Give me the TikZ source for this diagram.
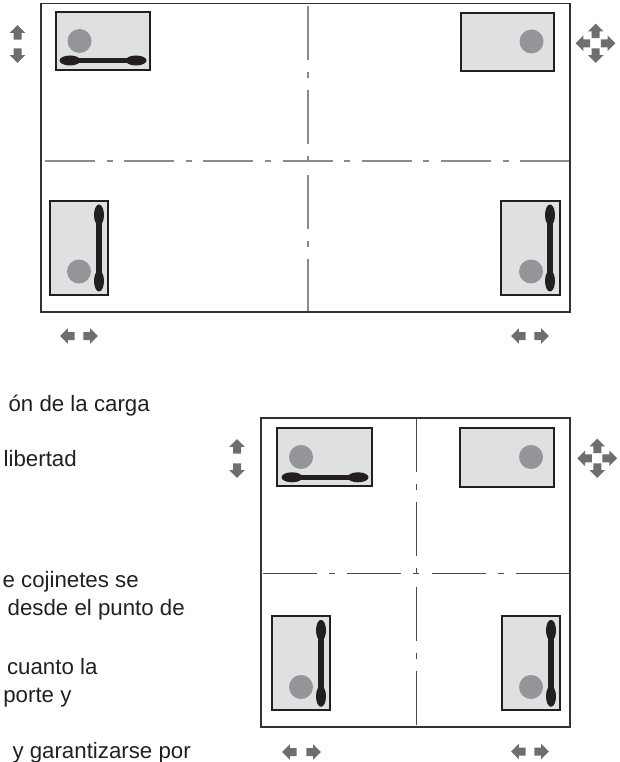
\documentclass[tikz,border=0pt]{standalone}
\usepackage{fontspec}
\setmainfont{Liberation Sans}
\usepackage{xcolor}
\usetikzlibrary{shapes.arrows}

\definecolor{framedark}{HTML}{333132}
\definecolor{axislight}{HTML}{8A8B8D}
\definecolor{axisdark}{HTML}{4A4A4B}
\definecolor{boxfill}{HTML}{DFE0E2}
\definecolor{ballgray}{HTML}{949598}
\definecolor{railblack}{HTML}{231F20}
\definecolor{movegray}{HTML}{6D6E71}

\tikzset{
	frameline/.style={draw=framedark,line width=1.1pt},
	axisfirst/.style={draw=axislight,line width=1pt,dash pattern=on 37.5pt off 8.7pt on 4.5pt off 8.7pt},
	axisupright/.style={draw=axislight,line width=1pt,dash pattern=on 40.5pt off 9.1pt on 4.5pt off 9.1pt},
	axissecond/.style={draw=axisdark,line width=.7pt,dash pattern=on 40.5pt off 9.1pt on 4.5pt off 9.1pt},
	bearingbox/.style={draw=railblack,fill=boxfill,line width=1.3pt},
	ballmark/.style={fill=ballgray},
	railbar/.style={draw=railblack,line width=4pt},
	railhead/.style={fill=railblack},
	movearrow/.style={single arrow,fill=movegray,inner sep=0pt,text height=5.6pt,text depth=0pt,text width=0pt,minimum height=11pt,single arrow head extend=2.8pt,single arrow head indent=0pt,anchor=tail},
	bodytext/.style={anchor=base east,inner sep=0pt,font=\fontsize{16.7pt}{20pt}\selectfont,text=railblack}
}

\begin{document}
\begin{tikzpicture}[x=.75pt,y=-.75pt]
	\useasboundingbox (0,0) rectangle (619,762);

	% Upper layout: axes and frame
	\draw[axisfirst] (45,161) -- (570,161);
	\draw[axisupright] (308,6) -- (308,312);
	\draw[frameline] (41,3.5) rectangle (570,312);

	% Upper layout: bearings
	\draw[bearingbox] (56,12) rectangle (150,70);
	\fill[ballmark] (79.5,41) circle (12);
	\draw[railbar] (70,60.5) -- (136,60.5);
	\fill[railhead] (70,60.5) ellipse (10.5 and 5);
	\fill[railhead] (136,60.5) ellipse (10.5 and 5);

	\draw[bearingbox] (461,13) rectangle (554,71);
	\fill[ballmark] (531.5,41.5) circle (12);

	\draw[bearingbox] (50,201) rectangle (108,295);
	\fill[ballmark] (79,271.5) circle (12);
	\draw[railbar] (99,215) -- (99,281);
	\fill[railhead] (99,215) ellipse (5 and 10.5);
	\fill[railhead] (99,281) ellipse (5 and 10.5);

	\draw[bearingbox] (501,201) rectangle (560,295);
	\fill[ballmark] (531,271.5) circle (12);
	\draw[railbar] (550,215) -- (550,281);
	\fill[railhead] (550,215) ellipse (5 and 10.5);
	\fill[railhead] (550,281) ellipse (5 and 10.5);

	% Upper layout: movement arrows
	\node[movearrow,rotate=90] (upperUp) at (17.5,40) {};
	\node[movearrow,rotate=-90] (upperDown) at (17.5,48) {};
	\node[movearrow,rotate=180] (upperLeftA) at (75,336) {};
	\node[movearrow] (upperRightA) at (83,336) {};
	\node[movearrow,rotate=180] (upperLeftB) at (526,336) {};
	\node[movearrow] (upperRightB) at (534,336) {};
	\node[movearrow,rotate=90] (upperCrossN) at (595.7,38.5) {};
	\node[movearrow,rotate=-90] (upperCrossS) at (595.7,48) {};
	\node[movearrow,rotate=180] (upperCrossW) at (590.5,43.3) {};
	\node[movearrow] (upperCrossE) at (600.5,43.3) {};

	% Lower layout: axes and frame
	\draw[axissecond] (263,573.7) -- (570,573.7);
	\draw[axissecond] (416.3,418) -- (416.3,727);
	\draw[frameline] (261,418) rectangle (570,727);

	% Lower layout: bearings
	\draw[bearingbox] (277,428) rectangle (372,486);
	\fill[ballmark] (301,457) circle (12);
	\draw[railbar] (292,477.3) -- (358,477.3);
	\fill[railhead] (292,477.3) ellipse (10.5 and 5);
	\fill[railhead] (358,477.3) ellipse (10.5 and 5);

	\draw[bearingbox] (460,428) rectangle (554,487);
	\fill[ballmark] (531,457) circle (12);

	\draw[bearingbox] (272,616) rectangle (330,710);
	\fill[ballmark] (301,687) circle (12);
	\draw[railbar] (321,630.3) -- (321,696.3);
	\fill[railhead] (321,630.3) ellipse (5 and 10.5);
	\fill[railhead] (321,696.3) ellipse (5 and 10.5);

	\draw[bearingbox] (502,616) rectangle (560,710);
	\fill[ballmark] (531,687) circle (12);
	\draw[railbar] (551,630.3) -- (551,696.3);
	\fill[railhead] (551,630.3) ellipse (5 and 10.5);
	\fill[railhead] (551,696.3) ellipse (5 and 10.5);

	% Lower layout: movement arrows
	\node[movearrow,rotate=90] (lowerUp) at (237,454) {};
	\node[movearrow,rotate=-90] (lowerDown) at (237,463) {};
	\node[movearrow,rotate=180] (lowerLeftA) at (297,752) {};
	\node[movearrow] (lowerRightA) at (306,752) {};
	\node[movearrow,rotate=180] (lowerLeftB) at (526,751.5) {};
	\node[movearrow] (lowerRightB) at (534,751.5) {};
	\node[movearrow,rotate=90] (lowerCrossN) at (597.3,453.5) {};
	\node[movearrow,rotate=-90] (lowerCrossS) at (597.3,463) {};
	\node[movearrow,rotate=180] (lowerCrossW) at (592.2,458.3) {};
	\node[movearrow] (lowerCrossE) at (602.2,458.3) {};

	% Cut-off text on the left
	\node[bodytext] (lineCarga) at (150,411.5) {ón de la carga};
	\node[bodytext] (lineLibertad) at (77,466) {libertad};
	\node[bodytext] (lineCojinetes) at (139,587.7) {e cojinetes se};
	\node[bodytext] (linePunto) at (185,615.7) {desde el punto de};
	\node[bodytext] (lineCuanto) at (97.7,674) {cuanto la};
	\node[bodytext] (linePorte) at (71.7,702) {porte y};
	\node[bodytext] (lineGarantizarse) at (191,758) {y garantizarse por};
\end{tikzpicture}
\end{document}
